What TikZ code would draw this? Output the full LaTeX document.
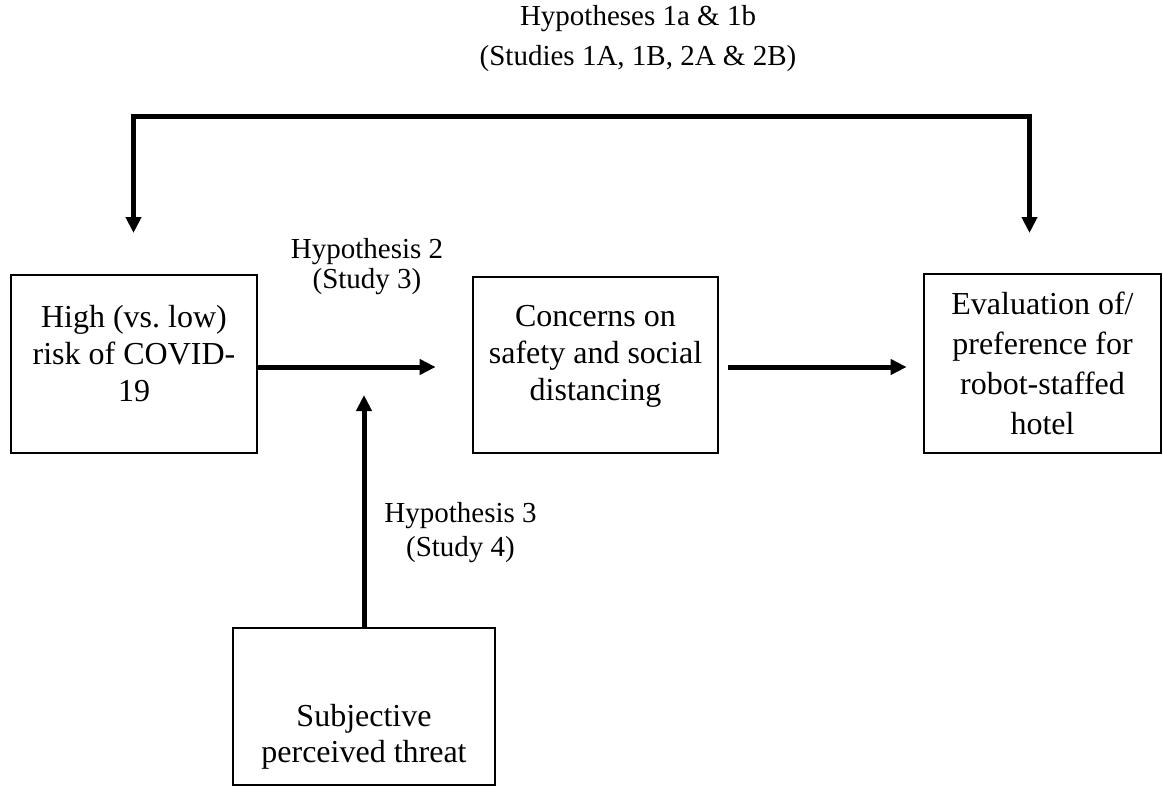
\documentclass[tikz,border=0pt]{standalone}
\usepackage{fontspec}
\setmainfont{Liberation Serif}
\usetikzlibrary{arrows.meta}
\begin{document}
\begin{tikzpicture}[x=1pt,y=-1pt,
  box/.style={draw, line width=2.7pt, inner sep=0pt},
  boxtext/.style={font=\fontsize{32}{37}\selectfont, align=center, inner sep=0pt, anchor=north},
  hyp/.style={align=center, inner sep=0pt, anchor=north},
  tip/.style={-{Triangle[width=15pt,length=16pt]}},
  conn/.style={line width=5pt, tip},
]
\useasboundingbox (0,0) rectangle (1163,787);

% boxes
\node[box, minimum width=246pt, minimum height=178pt,
  label={[boxtext, yshift=-31pt]north:{High (vs.\ low)\\risk of COVID-\\19}}] (A) at (134,364) {};
\node[box, minimum width=245pt, minimum height=176pt,
  label={[boxtext, yshift=-29pt]north:{Concerns on\\safety and social\\distancing}}] (B) at (595.5,365) {};
\node[box, minimum width=237pt, minimum height=179pt,
  label={[boxtext, font=\fontsize{32}{40}\selectfont, yshift=-19pt]north:{Evaluation of/\\preference for\\robot-staffed\\hotel}}] (C) at (1042.5,363.5) {};
\node[box, minimum width=262pt, minimum height=157pt,
  label={[boxtext, font=\fontsize{32}{36}\selectfont, yshift=-77pt]north:{Subjective\\perceived threat}}] (D) at (364,706.5) {};

% hypothesis labels
\node[hyp, font=\fontsize{29}{40}\selectfont] (h1) at (638,5) {Hypotheses 1a \& 1b\\(Studies 1A, 1B, 2A \& 2B)};
\node[hyp, font=\fontsize{29}{30}\selectfont] (h2) at (367,238) {Hypothesis 2\\(Study 3)};
\node[hyp, font=\fontsize{29}{34}\selectfont] (h3) at (460.5,502) {Hypothesis 3\\(Study 4)};

% coordinates for free ends
\coordinate (tl) at (133.5,116);
\coordinate (tr) at (1029.5,116);
\coordinate (ta) at (133.5,233);
\coordinate (tc) at (1029.5,233);
\coordinate (mid) at (0,367);
\coordinate (tipD) at (0,395);

% connectors
\draw[line width=5pt, line join=miter, {Triangle[width=15pt,length=16pt]}-{Triangle[width=15pt,length=16pt]}]
  (ta) -- (tl) -- (tr) -- (tc);
\draw[conn, shorten >=36pt] (A.east |- mid) -- (B.west |- mid);
\draw[conn, shorten <=9pt, shorten >=16pt] (B.east |- mid) -- (C.west |- mid);
\draw[conn] (D.north) -- (D.north |- tipD);
\end{tikzpicture}
\end{document}
